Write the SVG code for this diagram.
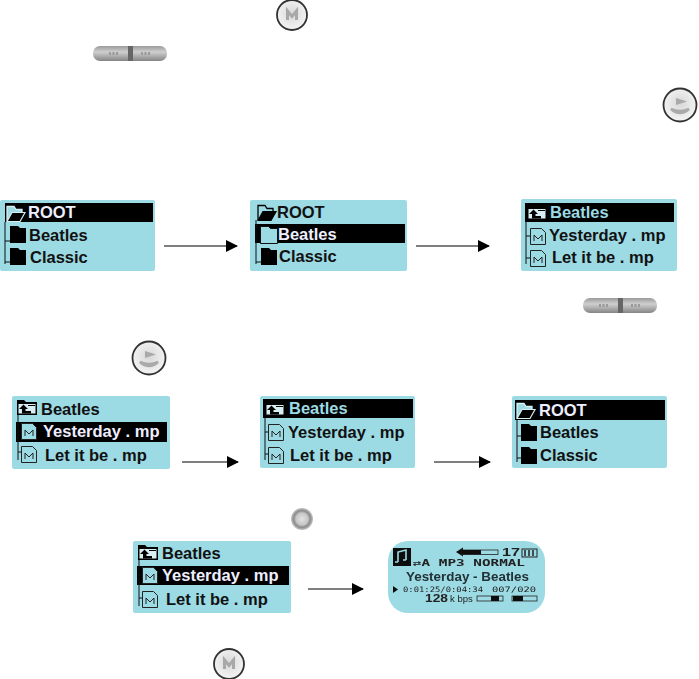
<svg xmlns="http://www.w3.org/2000/svg" xmlns:xlink="http://www.w3.org/1999/xlink" width="699" height="679" viewBox="0 0 699 679">
<style>
.p{fill:#9cdae4}
.t{font-family:"Liberation Sans",Arial,sans-serif;font-weight:700;font-size:16.5px;fill:#111}
.w{fill:#eef}
.l{fill:#9cdae4}
.b{fill:#000}
.c{stroke:#000;stroke-width:1.2;fill:none}
.tree{stroke:#111;stroke-width:1;fill:none}
.lcd{font-family:"DejaVu Sans Mono",monospace;fill:#222}
</style>
<defs>
<filter id="soft" x="-10%" y="-10%" width="120%" height="120%"><feGaussianBlur stdDeviation=".45"/></filter>
<marker id="a" markerWidth="12" markerHeight="12" refX="11" refY="6" orient="auto" markerUnits="userSpaceOnUse"><path d="M0 0L12 6L0 12z" fill="#000"/></marker>
<radialGradient id="g1" cx=".5" cy=".45" r=".55"><stop offset="0" stop-color="#d8d8d8"/><stop offset="1" stop-color="#f4f4f4"/></radialGradient>
<linearGradient id="g2" x1="0" y1="0" x2="0" y2="1"><stop offset="0" stop-color="#9a9a9a"/><stop offset=".4" stop-color="#cfcfcf"/><stop offset="1" stop-color="#858585"/></linearGradient>
<radialGradient id="g3" cx=".5" cy=".5" r=".5"><stop offset="0" stop-color="#e2e2e2"/><stop offset=".55" stop-color="#c6c6c6"/><stop offset=".75" stop-color="#8a8a8a"/><stop offset="1" stop-color="#c4c4c4"/></radialGradient>
<g id="mbtn" filter="url(#soft)"><circle r="15" fill="url(#g1)" stroke="#333" stroke-width="1.8"/><path d="M-4.500 5V-4L0 1.500L4.500-4V5" fill="none" stroke="#a8a8a8" stroke-width="3"/></g>
<g id="play" filter="url(#soft)"><circle r="16.5" fill="url(#g1)" stroke="#333" stroke-width="1.8"/><path d="M-4-7L7-3.500L-4 0z" fill="#aaa"/><path d="M-9 4Q0 12 9 4Q0 8-9 4z" fill="#aaa" stroke="#aaa" stroke-width="2.500"/></g>
<g id="pill" filter="url(#soft)"><rect width="74" height="15" rx="7" fill="url(#g2)"/><rect x="35" width="5" height="15" fill="#666"/><path d="M16 7.500h9M48 7.500h9" stroke="#9a9a9a" stroke-width="3" stroke-dasharray="2 1.500"/></g>
<g id="open"><path d="M1 16V1.500h7l2 3h6V8" fill="#9cdae4" stroke="currentColor" stroke-width="1.300"/><path d="M1 16.500L6 7.500H19L14 16.500z" fill="#000" stroke="currentColor" stroke-width="1.200"/></g>
<g id="closed"><path d="M0 1h8l2 2h6v15H0z" fill="#000"/></g>
<g id="outline"><path d="M.5 1.500h8l2 2h7v15H.5z" fill="#9cdae4" stroke="#111"/></g>
<g id="up"><path d="M0 1h7l2 2h11v13H0z" fill="#000"/><path d="M1.500 5H18.500V14.500H1.500z" fill="#d8eef2"/><path d="M2 10L6.500 5.500L11 10H8.500V12H14V14.500H5V10z" fill="#000"/><path d="M11 6.500H18" stroke="#000"/></g>
<g id="doc"><path d="M.5.5h11l4 4v12H.5z" fill="#9cdae4" stroke="#222"/><path d="M4 13V7l4 4 4-4v6" fill="none" stroke="#222"/></g>
</defs>
<rect width="699" height="679" fill="#fff"/>

<g id="btn-m-top"><use xlink:href="#mbtn" x="292" y="15"/></g>
<g id="btn-pill-top"><use xlink:href="#pill" x="93" y="46"/></g>
<g id="btn-play-top"><use xlink:href="#play" x="680" y="105"/></g>
<g id="btn-pill-mid"><use xlink:href="#pill" x="583" y="298"/></g>
<g id="btn-play-mid"><use xlink:href="#play" x="149" y="358"/></g>
<g id="btn-stop"><circle cx="302" cy="519" r="11" fill="url(#g3)" filter="url(#soft)"/></g>
<g id="btn-m-bottom"><use xlink:href="#mbtn" x="229" y="664"/></g>

<g id="panel-a">
<rect class="p" x="0" y="200" width="155" height="71" rx="2"/>
<rect class="b" x="5" y="203" width="148" height="19"/>
<path class="tree" d="M5 222V264M5 241H10M5 262H10"/>
<use xlink:href="#open" x="6" y="205" color="#d8eef2"/>
<use xlink:href="#closed" x="10" y="225"/><use xlink:href="#closed" x="10" y="247"/>
<text class="t w" x="28" y="218">ROOT</text>
<text class="t" x="29" y="241">Beatles</text>
<text class="t" x="30" y="263">Classic</text>
</g>
<g id="panel-b">
<rect class="p" x="250" y="200" width="157" height="71" rx="2"/>
<rect class="b" x="255" y="224" width="150" height="19"/>
<path class="tree" d="M256 220V264M256 262H261"/>
<use xlink:href="#open" x="257" y="204" color="#000"/>
<use xlink:href="#outline" x="260" y="225"/><use xlink:href="#closed" x="261" y="247"/>
<text class="t" x="277" y="218">ROOT</text>
<text class="t w" x="278" y="240">Beatles</text>
<text class="t" x="279" y="262">Classic</text>
</g>
<g id="panel-c">
<rect class="p" x="521" y="199" width="156" height="72" rx="2"/>
<rect class="b" x="525" y="203" width="149" height="19"/>
<path class="tree" d="M526 222V264M526 236H530M526 258H530"/>
<use xlink:href="#up" x="527" y="204"/>
<use xlink:href="#doc" x="530" y="228"/><use xlink:href="#doc" x="530" y="250"/>
<text class="t l" x="550" y="218">Beatles</text>
<text class="t" x="549" y="241">Yesterday . mp</text>
<text class="t" x="552" y="263">Let it be . mp</text>
</g>

<g id="panel-d">
<rect class="p" x="12" y="396" width="158" height="73" rx="2"/>
<rect class="b" x="16" y="422" width="151" height="20"/>
<path class="tree" d="M18 412V460M18 431H22M18 452H22"/>
<use xlink:href="#up" x="17" y="399"/>
<use xlink:href="#doc" x="21" y="423"/><use xlink:href="#doc" x="21" y="446"/>
<text class="t" x="41" y="415">Beatles</text>
<text class="t w" x="43" y="437">Yesterday . mp</text>
<text class="t" x="45" y="461">Let it be . mp</text>
</g>
<g id="panel-e">
<rect class="p" x="260" y="396" width="155" height="72" rx="2"/>
<rect class="b" x="263" y="399" width="150" height="19"/>
<path class="tree" d="M265 418V460M265 432H270M265 454H270"/>
<use xlink:href="#up" x="265" y="400"/>
<use xlink:href="#doc" x="268" y="424"/><use xlink:href="#doc" x="268" y="447"/>
<text class="t l" x="289" y="414">Beatles</text>
<text class="t" x="288" y="438">Yesterday . mp</text>
<text class="t" x="290" y="461">Let it be . mp</text>
</g>
<g id="panel-f">
<rect class="p" x="512" y="396" width="155" height="72" rx="2"/>
<rect class="b" x="515" y="400" width="150" height="20"/>
<path class="tree" d="M517 420V462M517 436H521M517 458H521"/>
<use xlink:href="#open" x="516" y="402" color="#d8eef2"/>
<use xlink:href="#closed" x="521" y="423"/><use xlink:href="#closed" x="521" y="446"/>
<text class="t w" x="539" y="416">ROOT</text>
<text class="t" x="540" y="438">Beatles</text>
<text class="t" x="540" y="461">Classic</text>
</g>
<g id="panel-g">
<rect class="p" x="133" y="541" width="158" height="72" rx="2"/>
<rect class="b" x="137" y="566" width="152" height="19"/>
<path class="tree" d="M139 558V606M139 575H143M139 598H143"/>
<use xlink:href="#up" x="138" y="544"/>
<use xlink:href="#doc" x="142" y="567"/><use xlink:href="#doc" x="142" y="591"/>
<text class="t" x="162" y="559">Beatles</text>
<text class="t w" x="162" y="581">Yesterday . mp</text>
<text class="t" x="166" y="605">Let it be . mp</text>
</g>
<g id="panel-h">
<rect class="p" x="388" y="541" width="157" height="72" rx="20"/>
<g filter="url(#soft)">
<rect x="393" y="548" width="18" height="18" fill="#111"/>
<path d="M398 562V552L406 550V560M398 562h-3M406 560h-3" fill="none" stroke="#9cdae4" stroke-width="1.600"/>
<text class="lcd" x="413" y="566" style="font-size:8px;font-weight:700" textLength="112" lengthAdjust="spacingAndGlyphs">⇄A MP3 NORMAL</text>
<path d="M456 552l7-4.500v9z" fill="#111"/><rect x="462" y="550" width="36" height="4.500" fill="#9cdae4" stroke="#222" stroke-width=".8"/><rect x="462" y="550" width="19" height="4.500" fill="#111"/>
<text x="502" y="556" style="font-family:'Liberation Sans',sans-serif;font-size:11px;font-weight:700;fill:#222" textLength="18" lengthAdjust="spacingAndGlyphs">17</text>
<rect x="522" y="549" width="15" height="8" fill="#9cdae4" stroke="#222"/><path d="M525 550v6M529 550v6M533 550v6" stroke="#222" stroke-width="1.500"/>
<text class="t" x="406" y="581" style="font-size:13px;fill:#223036" textLength="123" lengthAdjust="spacingAndGlyphs">Yesterday - Beatles</text>
<path d="M393 586l5 3.500-5 3.500z" fill="#111"/>
<text class="lcd" x="403" y="591.500" style="font-size:7.500px" textLength="80" lengthAdjust="spacingAndGlyphs">0:01:25/0:04:34</text>
<text class="lcd" x="492" y="591.500" style="font-size:7.500px" textLength="44" lengthAdjust="spacingAndGlyphs">007/020</text>
<text class="t" x="425" y="602" style="font-size:10px;fill:#222" textLength="23" lengthAdjust="spacingAndGlyphs">128</text>
<text x="450" y="602" style="font-family:'Liberation Sans',sans-serif;font-size:9.500px;fill:#222">k bps</text>
<rect x="477" y="596" width="26" height="5" fill="#9cdae4" stroke="#222" stroke-width=".8"/><rect x="491" y="596" width="8" height="5" fill="#111"/>
<rect x="512" y="596" width="25" height="5" fill="#9cdae4" stroke="#222" stroke-width=".8"/><rect x="513" y="596" width="10" height="5" fill="#111"/>
</g>
</g>

<g id="connectors">
<path class="c" d="M164 246H237" marker-end="url(#a)"/>
<path class="c" d="M416 246H489" marker-end="url(#a)"/>
<path class="c" d="M182 462H238" marker-end="url(#a)"/>
<path class="c" d="M434 462H490" marker-end="url(#a)"/>
<path class="c" d="M308 589H363" marker-end="url(#a)"/>
</g>
</svg>
